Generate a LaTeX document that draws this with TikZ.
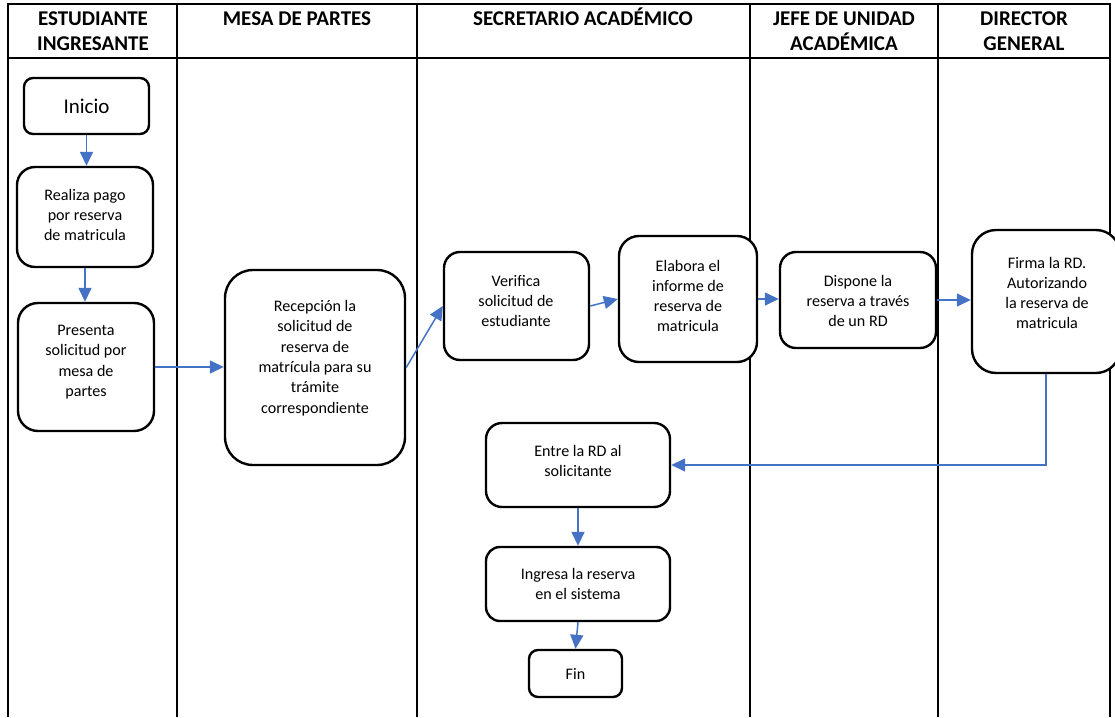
\documentclass[tikz,border=0pt]{standalone}
\usepackage{fontspec}
\setmainfont{Carlito}
\usetikzlibrary{arrows.meta}
\definecolor{flowblue}{HTML}{4472C4}

% rounded process box from its corner coordinates (x1,y1)-(x2,y2)
\newcommand\procbox[6]{%
  \node[box, rounded corners=#6pt, minimum width={#4pt-#2pt}, minimum height={#5pt-#3pt}]
    (#1) at ({(#2+#4)/2},{(#3+#5)/2}) {};}

\begin{document}
\begin{tikzpicture}[x=1pt,y=-1pt,
  lane/.style={line width=1.6pt, draw=black},
  head/.style={font=\bfseries\fontsize{21}{24.5}\selectfont, align=center, anchor=north, inner sep=0pt},
  box/.style={draw=black, fill=white, line width=2.4pt, inner sep=0pt},
  txt/.style={font=\fontsize{16.1}{20.3}\selectfont, align=center, inner sep=0pt},
  flow/.style={draw=flowblue, line width=1.5pt, -{Triangle[length=14pt,width=13pt]}},
]
\useasboundingbox (0,0) rectangle (1115,717);

% swimlane grid
\draw[lane] (8,717) -- (8,4) -- (1110,4) -- (1110,717);
\draw[lane] (8,58) -- (1110,58);
\foreach \xx in {177,417,750,938} \draw[lane] (\xx,4) -- (\xx,717);

% lane headers
\newcommand\hs{\rule{0pt}{17.5pt}}
\node[head] (h1) at (93,8)   {\hs ESTUDIANTE\\INGRESANTE};
\node[head] (h2) at (297,8)  {\hs MESA DE PARTES};
\node[head] (h3) at (583,8)  {\hs SECRETARIO ACADÉMICO};
\node[head] (h4) at (844,8)  {\hs JEFE DE UNIDAD\\ACADÉMICA};
\node[head] (h5) at (1024,8) {\hs DIRECTOR\\GENERAL};

% process boxes
\procbox{inicio}{24}{78}{149}{134}{9}
\procbox{realiza}{17}{167}{153}{267}{18}
\procbox{presenta}{18}{303}{154}{431}{20}
\procbox{recep}{225}{270}{405}{465}{28}
\procbox{verif}{444}{252}{589}{360}{16}
\procbox{elab}{619}{236}{757}{362}{20}
\procbox{disp}{780}{252}{936}{348}{16}
\procbox{firma}{972}{230}{1120}{373}{24}
\procbox{entre}{486}{423}{670}{507}{16}
\procbox{ingresa}{486}{547}{670}{621}{14}
\procbox{fin}{529}{650}{622}{697}{9}

% box texts
\node[txt, font=\fontsize{21}{24}\selectfont] (inicioT) at (86.5,106) {Inicio};
\node[txt] (realizaT) at (85,215) {Realiza pago\\por reserva\\de matricula};
\node[txt] (presentaT) at (86,362) {Presenta\\solicitud por\\mesa de\\partes};
\node[txt] (recepT) at (315,358) {Recepción la\\solicitud de\\reserva de\\matrícula para su\\trámite\\correspondiente};
\node[txt] (verifT) at (516,301) {Verifica\\solicitud de\\estudiante};
\node[txt] (elabT) at (688,296) {Elabora el\\informe de\\reserva de\\matricula};
\node[txt] (dispT) at (858,301) {Dispone la\\reserva a través\\de un RD};
\node[txt] (firmaT) at (1047,293) {Firma la RD.\\Autorizando\\la reserva de\\matricula};
\node[txt] (entreT) at (578,461) {Entre la RD al\\solicitante};
\node[txt] (ingresaT) at (578,584) {Ingresa la reserva\\en el sistema};
\node[txt] (finT) at (575.5,674) {Fin};

% flow connectors
\draw[flow] (inicio.south) -- (inicio.south |- realiza.north);
\draw[flow] (realiza.south) -- (realiza.south |- presenta.north);
\draw[flow] (presenta.east) -- (presenta.east -| recep.west);
\draw[flow] (recep.east) -- (verif.west);
\draw[flow] (verif.east) -- (elab.west);
\draw[flow] (elab.east) -- (elab.east -| disp.west);
\draw[flow] (disp.east) -- (disp.east -| firma.west);
\draw[flow] (firma.south) |- (entre.east);
\draw[flow] (entre.south) -- (entre.south |- ingresa.north);
\draw[flow] (ingresa.south) -- (fin.north);
\end{tikzpicture}
\end{document}
